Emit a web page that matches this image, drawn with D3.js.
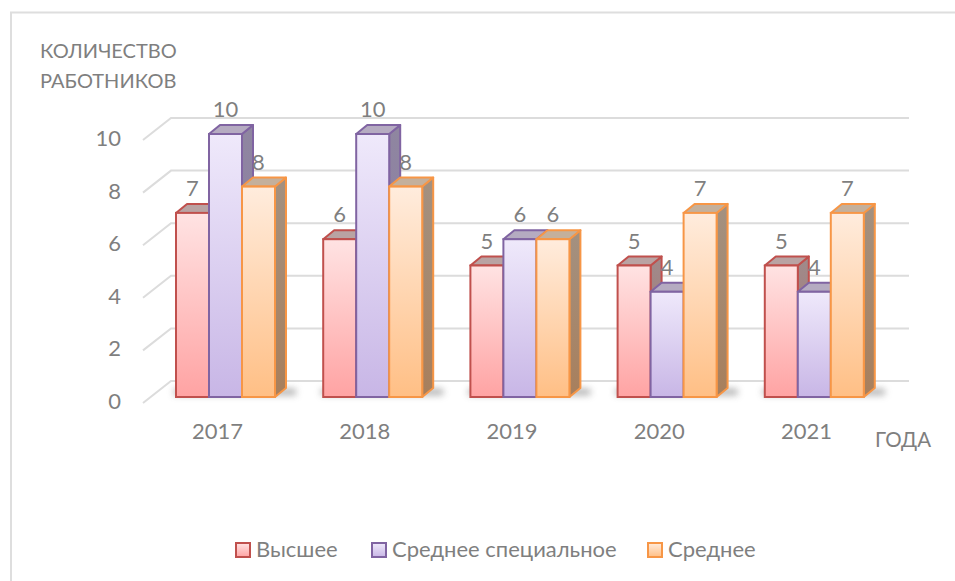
<!DOCTYPE html>
<html>
<head>
<meta charset="utf-8">
<script src="https://cdn.jsdelivr.net/npm/d3@7/dist/d3.min.js"></script>
<style>
  html, body { margin: 0; padding: 0; background: #fff; }
  svg { display: block; }
  text { font-family: "Lato", "Open Sans", sans-serif; fill: #7f7f7f; }
</style>
</head>
<body>
<svg id="chart" width="955" height="581"></svg>
<script>
// values
var years = ["2017", "2018", "2019", "2020", "2021"];
var higher = [7, 6, 5, 5, 5];
var special = [10, 10, 6, 4, 4];
var secondary = [8, 8, 6, 7, 7];
var seriesNames = ["Высшее", "Среднее специальное", "Среднее"];
var yTicks = [0, 2, 4, 6, 8, 10];

var seriesValues = [higher, special, secondary];
var lineColors = ["#c0504d", "#8064a2", "#f79646"];
var topColors = ["#b9a3a3", "#b5abc1", "#c4b09c"];
var sideTopColors = ["#a08b8b", "#8f86a0", "#a39181"];
var sideBottomColors = ["#a87070", "#8c78a8", "#a87f5c"];
var lightColors = ["#ffe3e3", "#efe9fb", "#ffecdd"];
var darkColors = ["#ffa3a3", "#c8b6e6", "#ffbf85"];

var depthX = 11, depthY = 9;
var fontSize = 22;

var svg = d3.select("#chart");
var defs = svg.append("defs");

seriesNames.forEach(function(name, i) {
    var grad = defs.append("linearGradient")
        .attr("id", "grad" + i)
        .attr("x1", 0).attr("y1", 0).attr("x2", 0).attr("y2", 1);
    grad.append("stop").attr("offset", "0%").attr("stop-color", lightColors[i]);
    grad.append("stop").attr("offset", "100%").attr("stop-color", darkColors[i]);
    var side = defs.append("linearGradient")
        .attr("id", "side" + i)
        .attr("x1", 0).attr("y1", 0).attr("x2", 0).attr("y2", 1);
    side.append("stop").attr("offset", "0%").attr("stop-color", sideTopColors[i]);
    side.append("stop").attr("offset", "100%").attr("stop-color", sideBottomColors[i]);
});
defs.append("filter").attr("id", "blur")
    .attr("x", "-30%").attr("y", "-200%").attr("width", "160%").attr("height", "500%")
    .append("feGaussianBlur").attr("stdDeviation", 3.5);

// outer frame, only top and left show in the crop
svg.append("path")
    .attr("d", "M11,581V12.5H955")
    .attr("fill", "none")
    .attr("stroke", "#dedede")
    .attr("stroke-width", 2);

var y = d3.scaleLinear().domain([0, 10]).range([397, 134]);
var x = d3.scaleBand().domain(years).range([143, 879]);
var barX = d3.scaleBand().domain([0, 1, 2]).range([0, 99]);
var barOffset = 33;

// floor + back wall grid
var backDx = 28, backDy = -22;
var grid = svg.append("g");
yTicks.forEach(function(t) {
    var py = y(t) + 6;
    grid.append("path")
        .attr("d", "M143," + py + "L" + (143 + backDx) + "," + (py + backDy) + "H909")
        .attr("fill", "none")
        .attr("stroke", "#dcdcdc")
        .attr("stroke-width", 2);
    svg.append("text")
        .attr("x", 121)
        .attr("y", y(t) + 12)
        .attr("text-anchor", "end")
        .attr("font-size", fontSize)
        .text(t);
});

var groups = svg.selectAll("g.year")
    .data(years)
    .enter()
    .append("g")
    .attr("class", "year")
    .attr("transform", function(d) { return "translate(" + (x(d) + barOffset) + ",0)"; });

// shadow on the floor
groups.append("rect")
    .attr("x", -2)
    .attr("y", 389)
    .attr("width", 122)
    .attr("height", 6)
    .attr("fill", "#666")
    .attr("opacity", 0.55)
    .attr("filter", "url(#blur)");

// bars are drawn left to right so the next bar covers the side of the last one
seriesNames.forEach(function(name, s) {
    groups.each(function(d, i) {
        var g = d3.select(this);
        var v = seriesValues[s][i];
        var x0 = barX(s), w = barX.bandwidth();
        var top = y(v), bottom = y(0);

        g.append("path")
            .attr("d", "M" + (x0 + w) + "," + top + "l" + depthX + "," + (-depthY) + "V" + (bottom - depthY) + "l" + (-depthX) + "," + depthY + "Z")
            .attr("fill", "url(#side" + s + ")")
            .attr("stroke", lineColors[s])
            .attr("stroke-width", 2)
            .attr("stroke-linejoin", "round");
        g.append("path")
            .attr("d", "M" + x0 + "," + top + "l" + depthX + "," + (-depthY) + "h" + w + "l" + (-depthX) + "," + depthY + "Z")
            .attr("fill", topColors[s])
            .attr("stroke", lineColors[s])
            .attr("stroke-width", 2)
            .attr("stroke-linejoin", "round");
        g.append("rect")
            .attr("x", x0)
            .attr("y", top)
            .attr("width", w)
            .attr("height", bottom - top)
            .attr("fill", "url(#grad" + s + ")")
            .attr("stroke", lineColors[s])
            .attr("stroke-width", 2);
    });
});

// value labels go on top of everything
seriesNames.forEach(function(name, s) {
    groups.append("text")
        .attr("x", barX(s) + barX.bandwidth() / 2 + 0)
        .attr("y", function(d, i) { return y(seriesValues[s][i]) - 17; })
        .attr("text-anchor", "middle")
        .attr("font-size", fontSize)
        .text(function(d, i) { return seriesValues[s][i]; });
});

svg.selectAll("text.cat")
    .data(years)
    .enter()
    .append("text")
    .attr("class", "cat")
    .attr("x", function(d) { return x(d) + x.bandwidth() / 2 + 1; })
    .attr("y", 439)
    .attr("text-anchor", "middle")
    .attr("font-size", fontSize)
    .text(function(d) { return d; });

svg.append("text").attr("x", 40).attr("y", 58).attr("font-size", 20).text("КОЛИЧЕСТВО");
svg.append("text").attr("x", 40).attr("y", 88).attr("font-size", 20).text("РАБОТНИКОВ");
svg.append("text").attr("x", 875).attr("y", 447).attr("font-size", 20.5).text("ГОДА");

// legend
var legendX = [236, 372, 648];
var legend = svg.selectAll("g.legend")
    .data(seriesNames)
    .enter()
    .append("g")
    .attr("class", "legend")
    .attr("transform", function(d, i) { return "translate(" + legendX[i] + ",543)"; });
legend.append("rect")
    .attr("width", 14)
    .attr("height", 14)
    .attr("fill", function(d, i) { return "url(#grad" + i + ")"; })
    .attr("stroke", function(d, i) { return lineColors[i]; })
    .attr("stroke-width", 2);
legend.append("text")
    .attr("x", 20)
    .attr("y", 14)
    .attr("font-size", fontSize)
    .text(function(d) { return d; });
</script>
</body>
</html>
